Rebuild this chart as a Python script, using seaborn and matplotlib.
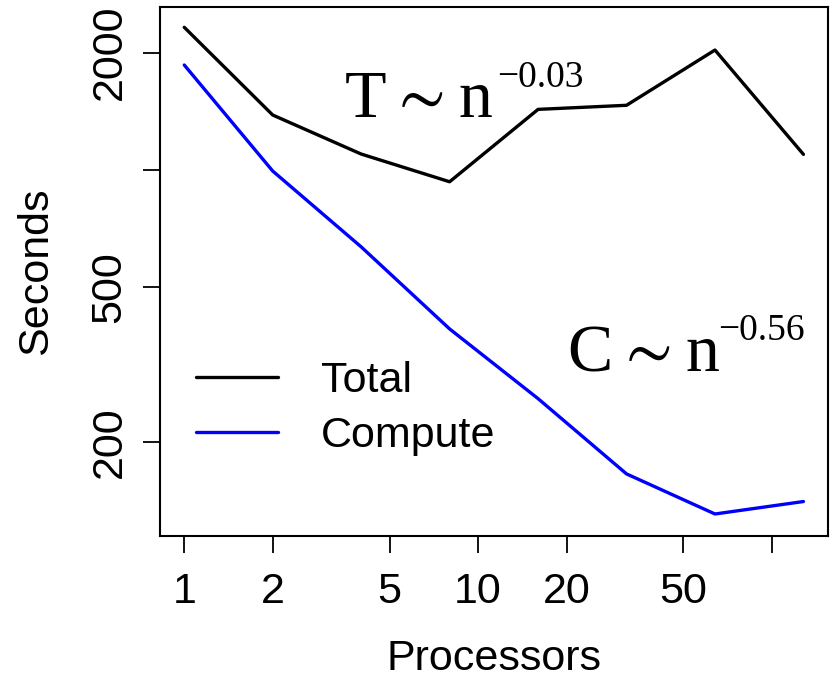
import matplotlib
matplotlib.use('Agg')
import matplotlib.pyplot as plt
import seaborn as sns
import pandas as pd

# values
processors = [1, 2, 4, 8, 16, 32, 64, 128]
total_sec = [2324, 1384, 1099, 933, 1431, 1466, 2032, 1097]
compute_sec = [1860, 994, 635, 391, 259, 166, 131, 141]

x_ticks = [1, 2, 5, 10, 20, 50, 100]
x_tick_labels = ['1', '2', '5', '10', '20', '50', '']
y_ticks = [200, 500, 1000, 2000]
y_tick_labels = ['200', '500', '', '2000']

df = pd.DataFrame({
    'Processors': processors * 2,
    'Seconds': total_sec + compute_sec,
    'series': ['Total'] * len(processors) + ['Compute'] * len(processors),
})

sns.set_theme(style='ticks')
plt.rcParams['font.family'] = ['Liberation Sans', 'DejaVu Sans']
plt.rcParams['text.color'] = 'black'
plt.rcParams['axes.labelcolor'] = 'black'
plt.rcParams['mathtext.fontset'] = 'custom'
plt.rcParams['mathtext.rm'] = 'Liberation Serif'
plt.rcParams['mathtext.fallback'] = 'stix'

fig = plt.figure(figsize=(8.3, 6.78), dpi=100)
ax = fig.add_axes([0.1928, 0.2094, 0.8048, 0.781])

sns.lineplot(data=df, x='Processors', y='Seconds', hue='series',
             palette={'Total': 'black', 'Compute': '#0000ff'},
             linewidth=2.4, ax=ax)

ax.set_xscale('log')
ax.set_yscale('log')
ax.set_xlim(0.827, 155.2)
ax.set_ylim(115, 2628)

ax.xaxis.set_minor_locator(matplotlib.ticker.NullLocator())
ax.yaxis.set_minor_locator(matplotlib.ticker.NullLocator())
ax.set_xticks(x_ticks)
ax.set_xticklabels(x_tick_labels)
ax.set_yticks(y_ticks)
ax.set_yticklabels(y_tick_labels, rotation=90, va='center')

ax.tick_params(axis='both', length=12, width=1.3, labelsize=31,
               color='black', labelcolor='black')
ax.tick_params(axis='x', pad=14)
ax.tick_params(axis='y', pad=10)

for s in ax.spines.values():
    s.set_linewidth(1.5)
    s.set_color('black')

ax.set_xlabel('Processors', fontsize=31, labelpad=19)
ax.set_ylabel('Seconds', fontsize=31, labelpad=24)

# fitted power laws, R plotmath style
serif = ['Liberation Serif', 'DejaVu Serif']
ax.text(0.275, 0.791, r'$\mathrm{T}\sim\mathrm{n}$', fontsize=49,
        transform=ax.transAxes, ha='left', va='baseline')
ax.text(0.504, 0.848, '\u22120.03', fontsize=27, family=serif,
        transform=ax.transAxes, ha='left', va='baseline')
ax.text(0.610, 0.3135, r'$\mathrm{C}\sim\mathrm{n}$', fontsize=49,
        transform=ax.transAxes, ha='left', va='baseline')
ax.text(0.835, 0.370, '\u22120.56', fontsize=27, family=serif,
        transform=ax.transAxes, ha='left', va='baseline')

ax.legend(loc='upper left', bbox_to_anchor=(0.054, 0.33), frameon=False,
          fontsize=31, handlelength=1.9, handletextpad=1.0,
          labelspacing=0.35, borderpad=0, borderaxespad=0)

fig.savefig('out.png', dpi=100)
